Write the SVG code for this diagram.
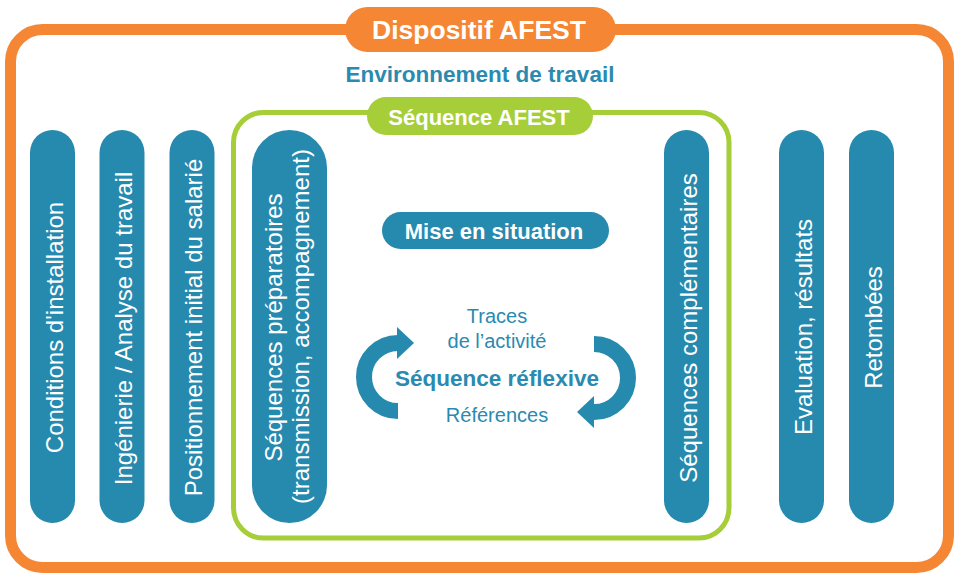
<svg xmlns="http://www.w3.org/2000/svg" width="956" height="573" viewBox="0 0 956 573">
<style>
.col{fill:#2689AE}
.ct{font-family:"Liberation Sans",Arial,sans-serif;font-size:24px;fill:#fff;text-anchor:middle}
.bt{font-family:"Liberation Sans",Arial,sans-serif;font-weight:bold;text-anchor:middle}
.rt{font-family:"Liberation Sans",Arial,sans-serif;font-size:20px;fill:#2A8AB0;text-anchor:middle}
.arc{fill:none;stroke:#2689AE;stroke-width:16}
.head{fill:#2689AE}
</style>
<rect width="956" height="573" fill="#fff"/>
<g id="dispositif">
<rect x="10.5" y="29.5" width="938" height="538" rx="32" fill="none" stroke="#F58634" stroke-width="11"/>
<rect x="345" y="7" width="271" height="45" rx="22.5" fill="#F58634"/>
<text class="bt" x="479" y="39" font-size="26.5" fill="#fff">Dispositif AFEST</text>
</g>
<g id="environnement">
<text class="bt" x="480" y="82" font-size="22.5" fill="#2A8AB0">Environnement de travail</text>
</g>
<g id="sequence-afest">
<rect x="233.5" y="112.5" width="495.5" height="425.5" rx="30" fill="none" stroke="#A6CE39" stroke-width="5"/>
<rect x="367" y="97" width="226" height="38" rx="19" fill="#A6CE39"/>
<text class="bt" x="479" y="125" font-size="22" fill="#fff">Séquence AFEST</text>
</g>
<g id="conditions">
<rect class="col" x="30" y="130" width="45" height="393" rx="22.5"/>
<text class="ct" transform="translate(62.5,327.5) rotate(-90)">Conditions d'installation</text>
</g>
<g id="ingenierie">
<rect class="col" x="99.5" y="130" width="45" height="393" rx="22.5"/>
<text class="ct" transform="translate(132,328.5) rotate(-90)">Ingénierie / Analyse du travail</text>
</g>
<g id="positionnement">
<rect class="col" x="169.5" y="130" width="45" height="393" rx="22.5"/>
<text class="ct" transform="translate(202,327.5) rotate(-90)">Positionnement initial du salarié</text>
</g>
<g id="preparatoires">
<rect class="col" x="252" y="130" width="75" height="393" rx="37.5"/>
<text class="ct" transform="translate(282,327.5) rotate(-90)">Séquences préparatoires</text>
<text class="ct" transform="translate(309,326.5) rotate(-90)">(transmission, accompagnement)</text>
</g>
<g id="mise-en-situation">
<rect x="382" y="212" width="227" height="37" rx="18.5" fill="#2689AE"/>
<text class="bt" x="494" y="239" font-size="22" fill="#fff">Mise en situation</text>
</g>
<g id="reflexive">
<text class="rt" x="497" y="323">Traces</text>
<text class="rt" x="497" y="348">de l’activité</text>
<text class="bt" x="497" y="386" font-size="22.5" fill="#2A8AB0">Séquence réflexive</text>
<text class="rt" x="497" y="422">Références</text>
</g>
<g id="complementaires">
<rect class="col" x="664" y="130" width="45" height="393" rx="22.5"/>
<text class="ct" transform="translate(697,328) rotate(-90)">Séquences complémentaires</text>
</g>
<g id="evaluation">
<rect class="col" x="779" y="130" width="45" height="393" rx="22.5"/>
<text class="ct" transform="translate(812,327) rotate(-90)">Evaluation, résultats</text>
</g>
<g id="retombees">
<rect class="col" x="849" y="130" width="45" height="393" rx="22.5"/>
<text class="ct" transform="translate(881.5,327.5) rotate(-90)">Retombées</text>
</g>
<g id="connectors">
<path class="arc" d="M398 411 A34 34 0 0 1 398 343"/>
<polygon class="head" points="397,327 414,343 397,359"/>
<path class="arc" d="M594 344 A34 34 0 0 1 594 412"/>
<polygon class="head" points="594,396 577,412 594,428"/>
</g>
</svg>
